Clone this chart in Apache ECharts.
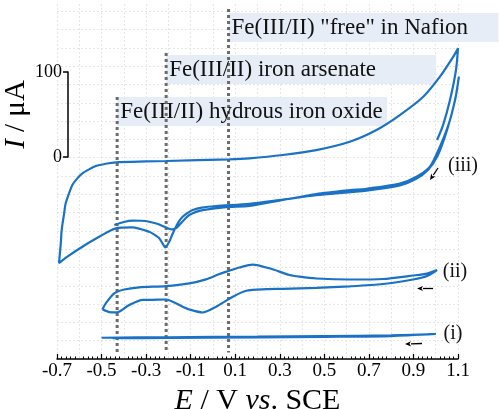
<!DOCTYPE html>
<html><head><meta charset="utf-8">
<script src="https://cdn.jsdelivr.net/npm/echarts@6/dist/echarts.min.js"></script>
<style>html,body{margin:0;padding:0;background:#fff}#c{width:499px;height:409px}</style>
</head><body><div id="c"></div>
<script>
// ---- data (E in V vs SCE, I in µA incl. vertical offsets of the stacked curves) ----
const xTickLabels = [-0.7,-0.5,-0.3,-0.1,0.1,0.3,0.5,0.7,0.9,1.1];
const scaleBarTicks = [0, 100];

const curve3 = [
  [-0.443,-80],[-0.40,-76.5],[-0.361,-74.9],[-0.32,-75],[-0.286,-76.1],[-0.25,-78.5],[-0.226,-81.2],[-0.20,-84],[-0.181,-85.1],
  [-0.165,-83.5],[-0.151,-80],[-0.128,-73.5],[-0.106,-68.2],[-0.076,-64.5],[-0.046,-62.4],[0.059,-59],[0.164,-57.5],[0.314,-50.5],
  [0.464,-43.5],[0.614,-39],[0.689,-37.3],[0.839,-31.2],[0.914,-23.2],[0.974,-11.4],[1.019,12.1],[1.064,43.5],[1.092,74],[1.104,94.5],
  [1.087,67],[1.051,31.8],[1.01,2.4],[0.965,-15.3],[0.91,-26],[0.839,-33.5],[0.689,-39.5],[0.464,-45],[0.314,-50],[0.164,-55],
  [0.014,-57.6],[-0.05,-59.5],[-0.091,-62.4],[-0.115,-66],[-0.136,-70.2],[-0.152,-75.5],[-0.166,-82],[-0.183,-91.5],[-0.196,-99.6],
  [-0.214,-106.2],[-0.228,-101],[-0.241,-95.6],[-0.265,-91],[-0.286,-87.9],[-0.361,-82.7],[-0.436,-83.9],[-0.511,-93.8],
  [-0.586,-105.5],[-0.65,-116.5],[-0.691,-124.7],
  [-0.683,-101.5],[-0.679,-85.9],[-0.668,-66.2],[-0.661,-54.5],[-0.646,-42.7],[-0.631,-32.9],[-0.609,-25.1],[-0.586,-19.2],
  [-0.556,-14.5],[-0.526,-10.6],[-0.481,-7.9],[-0.436,-6.2],[-0.3,-5.2],[-0.211,-4.7],[0.074,-2.7],[0.164,-1.5],[0.314,2.4],
  [0.464,8.2],[0.614,18],[0.734,31.8],[0.839,49.4],[0.944,70.9],[1.019,94.5],[1.079,118],[1.1,127.9],
  [1.091,102.4],[1.064,67],[1.033,37.6],[1.006,20]
];

const curve2 = [
  [-0.496,-179.2],[-0.481,-172.1],[-0.443,-160.4],[-0.398,-155.9],[-0.331,-153.3],[-0.211,-151.8],[-0.106,-148.6],[-0.031,-143.9],
  [0.029,-137.6],[0.074,-133.8],[0.119,-130],[0.178,-126.5],[0.254,-130.9],[0.344,-138.8],[0.389,-140.8],[0.464,-142.9],
  [0.614,-144.1],[0.763,-143.5],[0.898,-139.4],[0.961,-137.1],[1.006,-132.9],
  [0.961,-140],[0.898,-144.1],[0.763,-149.4],[0.614,-152.1],[0.464,-153.9],[0.313,-155.1],[0.239,-155.5],[0.149,-157.3],
  [0.089,-164.4],[0.014,-176.1],[-0.046,-182.9],[-0.106,-179.4],[-0.136,-176.1],[-0.211,-167.6],[-0.286,-168],[-0.316,-168],
  [-0.376,-174.1],[-0.429,-182.7],[-0.466,-182.4],[-0.496,-179.2]
];

const curve1 = [
  [-0.5,-212.6],[-0.2,-212.0],[0.2,-211.3],[0.5,-210.6],[0.8,-209.8],[1.0,-208.2],
  [0.8,-210.6],[0.5,-211.5],[0.2,-212.2],[-0.2,-212.8],[-0.45,-213.1]
];

const markerE = [-0.43, -0.21, 0.07];
const markerTop = [70.6, 122.4, 174.1];
const markerBottom = -230;
const bandLabels = ['Fe(III/II) hydrous iron oxide', 'Fe(III/II) iron arsenate', 'Fe(III/II) "free" in Nafion'];
const curveLabels = ['(iii)', '(ii)', '(i)'];

// ---- chart ----
const FONT = 'Liberation Serif';
const BLUE = '#1a72c6';
const chart = echarts.init(document.getElementById('c'), null, {renderer: 'canvas'});

const curveSeries = [curve3, curve2, curve1].map(d => ({
  type: 'line', xAxisIndex: 0, yAxisIndex: 0, data: d, showSymbol: false, symbol: 'none',
  smooth: 0.25, clip: false, z: 3,
  lineStyle: {color: BLUE, width: 2.2}
}));
const markerSeries = markerE.map((e, i) => ({
  type: 'line', xAxisIndex: 0, yAxisIndex: 0, data: [[e, markerTop[i]], [e, markerBottom]],
  showSymbol: false, symbol: 'none', z: 2,
  lineStyle: {color: '#6b6b6b', width: 3, type: [3, 3]}
}));

chart.setOption({
  animation: false,
  backgroundColor: '#fff',
  grid: [
    {left: 57, right: 41, top: 4, bottom: 50, outerBoundsMode: 'none', containLabel: false},
    {left: 68, top: 72, height: 85, width: 10, outerBoundsMode: 'none', containLabel: false},
    {left: 57, right: 41, top: 359 - 18.3 * 19, bottom: 50, outerBoundsMode: 'none', containLabel: false}
  ],
  xAxis: [
    {type: 'value', gridIndex: 0, min: -0.7, max: 1.1, interval: 0.1,
     axisLine: {show: true, onZero: false, lineStyle: {color: '#000', width: 1.5}},
     axisTick: {show: true, inside: true, length: 5, customValues: xTickLabels, lineStyle: {color: '#000', width: 1.2}},
     minorTick: {show: true, splitNumber: 5, length: 2.5, lineStyle: {color: '#000', width: 1}},
     axisLabel: {customValues: xTickLabels, fontSize: 19, fontFamily: FONT, color: '#000', margin: 3,
                 formatter: v => String(Math.round(v * 10) / 10)},
     splitLine: {show: false},
     name: '{i|E} / V {i|vs}. SCE', nameLocation: 'middle', nameGap: 19,
     nameTextStyle: {fontSize: 30, fontFamily: FONT, color: '#000',
       rich: {i: {fontStyle: 'italic', fontSize: 30, fontFamily: FONT, color: '#000'}}}
    },
    {type: 'value', gridIndex: 1, show: false, min: 0, max: 1},
    {type: 'value', gridIndex: 0, min: -0.7, max: 1.1, interval: 0.1,
     axisLine: {show: false}, axisTick: {show: false}, axisLabel: {show: false},
     splitLine: {show: true, lineStyle: {color: '#e6e6e6', width: 1, type: [2, 2]}}},
    {type: 'value', gridIndex: 2, show: false, min: 0, max: 1}
  ],
  yAxis: [
    {type: 'value', gridIndex: 0, show: false, min: -237.6, max: 180},
    {type: 'value', gridIndex: 1, min: 0, max: 100, interval: 100,
     axisLine: {show: true, lineStyle: {color: '#000', width: 1.5}},
     axisTick: {show: true, length: 5, customValues: scaleBarTicks, lineStyle: {color: '#000', width: 1.5}},
     axisLabel: {customValues: scaleBarTicks, fontSize: 18, fontFamily: FONT, color: '#000', margin: 6},
     splitLine: {show: false},
     name: '{i|I} / μA', nameLocation: 'middle', nameGap: 30,
     nameTextStyle: {fontSize: 29, fontFamily: FONT, color: '#000',
       rich: {i: {fontStyle: 'italic', fontSize: 29, fontFamily: FONT, color: '#000'}}}
    },
    {type: 'value', gridIndex: 2, min: 0, max: 19, interval: 1,
     axisLine: {show: false}, axisTick: {show: false}, axisLabel: {show: false},
     splitLine: {show: true, lineStyle: {color: '#e6e6e6', width: 1, type: [2, 2]}}}
  ],
  series: [...markerSeries, ...curveSeries]
});

// ---- annotations anchored to the marker lines ----
function arrow(x1, y1, x2, y2) {
  const a = Math.atan2(y2 - y1, x2 - x1), L = 6, W = 2.6;
  const bx = x2 - L * Math.cos(a), by = y2 - L * Math.sin(a);
  return [
    {type: 'line', z: 10, shape: {x1, y1, x2: bx, y2: by}, style: {stroke: '#000', lineWidth: 1.3}},
    {type: 'polygon', z: 10, shape: {points: [[x2, y2],
      [bx + W * Math.sin(a), by - W * Math.cos(a)], [bx + 1.5 * Math.cos(a), by + 1.5 * Math.sin(a)],
      [bx - W * Math.sin(a), by + W * Math.cos(a)]]},
     style: {fill: '#000'}}
  ];
}
const g = [];
markerE.forEach((e, i) => {
  const p = chart.convertToPixel({xAxisIndex: 0, yAxisIndex: 0}, [e, markerTop[i]]);
  const top = p[1] + (i === 0 ? 0 : (i === 1 ? 2 : 4));
  g.push({type: 'rect', z: 1, shape: {x: p[0], y: top, width: 270, height: 29}, style: {fill: '#e7edf7'}});
  g.push({type: 'text', z: 5, x: p[0] + 3, y: top + 15,
          style: {text: bandLabels[i], font: '23px "Liberation Serif"', fill: '#111', verticalAlign: 'middle', align: 'left'}});
});
const labelPos = [[463, 166], [455, 271.5], [453, 334]];
curveLabels.forEach((t, i) => {
  g.push({type: 'text', z: 10, x: labelPos[i][0], y: labelPos[i][1],
          style: {text: t, font: '20px "Liberation Serif"', fill: '#111', align: 'center', verticalAlign: 'middle'}});
});
g.push(...arrow(438, 168, 430, 180), ...arrow(433, 288.5, 417, 288.5), ...arrow(422, 343.5, 405, 344));
chart.setOption({graphic: {elements: g}});
</script>
</body></html>
